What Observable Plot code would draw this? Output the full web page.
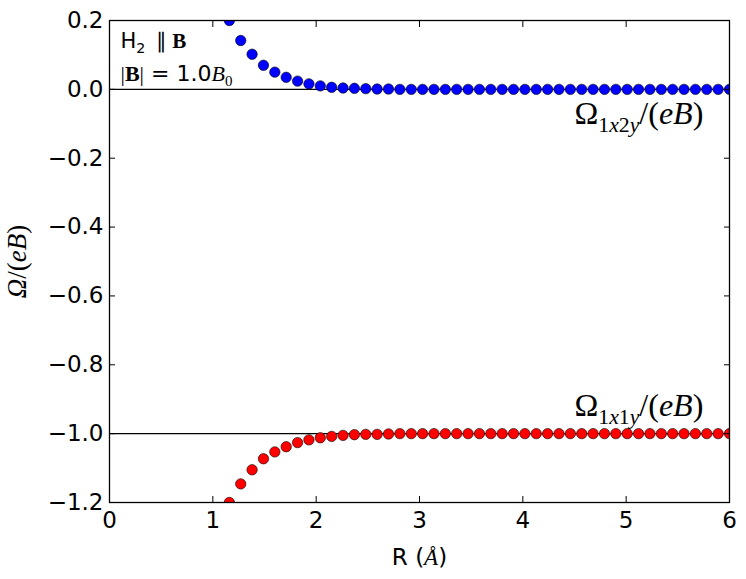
<!DOCTYPE html>
<html><head><meta charset="utf-8">
<script src="https://cdn.jsdelivr.net/npm/d3@7"></script>
<script src="https://cdn.jsdelivr.net/npm/@observablehq/plot@0.6"></script>
<style>
body{margin:0;background:#fff}
#chart{position:absolute;left:0;top:0}
</style>
</head><body><div id="chart"></div>
<script>
// Bond length R (Å)
const R = [1.16,1.27,1.38,1.49,1.60,1.71,1.82,1.93,2.04,2.15,2.26,2.37,2.48,2.59,2.70,2.81,2.92,3.03,3.14,3.25,3.36,3.47,3.58,3.69,3.80,3.91,4.02,4.13,4.24,4.35,4.46,4.57,4.68,4.79,4.90,5.01,5.12,5.23,5.34,5.45,5.56,5.67,5.78,5.89,6.00];
// Ω_1x2y/(eB)  (blue)
const omega1x2y = [0.200,0.142,0.102,0.070,0.050,0.035,0.024,0.016,0.010,0.006,0.004,0.003,0.002,0.001,0.001,0,0,0,0,0,0,0,0,0,0,0,0,0,0,0,0,0,0,0,0,0,0,0,0,0,0,0,0,0,0];
// Ω_1x1y/(eB)  (red)
const omega1x1y = [-1.200,-1.146,-1.105,-1.073,-1.053,-1.038,-1.026,-1.018,-1.012,-1.008,-1.005,-1.003,-1.002,-1.002,-1.001,-1,-1,-1,-1,-1,-1,-1,-1,-1,-1,-1,-1,-1,-1,-1,-1,-1,-1,-1,-1,-1,-1,-1,-1,-1,-1,-1,-1,-1,-1];
const xTicks = [0,1,2,3,4,5,6];
const yTicks = [-1.2,-1.0,-0.8,-0.6,-0.4,-0.2,0.0,0.2];
const refLines = [0,-1];

const blue = R.map((r,i)=>({r, v: omega1x2y[i]}));
const red = R.map((r,i)=>({r, v: omega1x1y[i]}));
const labels = [
  {x:4.5, y:-0.1, key:"l12", text:"Ω1x2y/(eB)"},
  {x:4.5, y:-0.95, key:"l11", text:"Ω1x1y/(eB)"}
];

const SANS = "DejaVu Sans", SERIF = "Liberation Serif";
const TF = 23, LF = 32;
const plot = Plot.plot({
  width:746, height:579,
  marginLeft:109, marginRight:17, marginTop:20, marginBottom:77,
  style:{fontFamily:SANS, fontSize:"20px", background:"white", color:"black", overflow:"visible"},
  x:{domain:[0,6]},
  y:{domain:[-1.2,0.2]},
  marks:[
    Plot.ruleY(refLines, {stroke:"black", strokeWidth:1.1}),
    Plot.dot(blue, {x:"r", y:"v", r:5.2, fill:"#0000ff", stroke:"black", strokeWidth:0.6, clip:true}),
    Plot.dot(red, {x:"r", y:"v", r:5.2, fill:"#ff0000", stroke:"black", strokeWidth:0.6, clip:true}),
    Plot.frame({stroke:"black", strokeWidth:1.3}),
    Plot.axisX(xTicks, {anchor:"bottom", tickSize:-6, tickPadding:15, fontSize:TF, fontFamily:SANS, tickFormat:d3.format("d"), label:null}),
    Plot.axisX(xTicks, {anchor:"top", tickSize:-6, text:null, label:null}),
    Plot.axisY(yTicks, {anchor:"left", tickSize:-6, tickPadding:12, fontSize:TF, fontFamily:SANS, tickFormat:d3.format(".1f"), label:null}),
    Plot.axisY(yTicks, {anchor:"right", tickSize:-6, text:null, label:null}),
    Plot.text(labels, {x:"x", y:"y", text:"text", textAnchor:"start", lineAnchor:"bottom", fontSize:LF, className:"omega-lbl"}),
    Plot.text(["H2  ∥ B"], {frameAnchor:"top-left", dx:11, dy:27, textAnchor:"start", lineAnchor:"bottom", fontSize:21, className:"leg1"}),
    Plot.text(["|B| = 1.0B0"], {frameAnchor:"top-left", dx:11, dy:60, textAnchor:"start", lineAnchor:"bottom", fontSize:22, className:"leg2"}),
    Plot.text(["R (Å)"], {frameAnchor:"bottom", dy:62, textAnchor:"middle", lineAnchor:"bottom", fontSize:TF, className:"xlbl"}),
    Plot.text(["Ω/(eB)"], {frameAnchor:"left", dx:-84, rotate:-90, textAnchor:"middle", lineAnchor:"bottom", fontSize:27, className:"ylbl"})
  ]
});
document.getElementById("chart").appendChild(plot);

function rich(textEl, segs, fs) {
  textEl.textContent = "";
  let shift = 0;
  for (const s of segs) {
    const t = document.createElementNS("http://www.w3.org/2000/svg","tspan");
    const want = s.sub ? 0.25*fs : 0;
    if (want !== shift) { t.setAttribute("dy", (want-shift)+"px"); shift = want; }
    t.setAttribute("font-size", (s.sub ? 0.68*fs : fs) + "px");
    t.setAttribute("font-family", s.f || SERIF);
    if (s.i) t.setAttribute("font-style","italic");
    if (s.b) t.setAttribute("font-weight","bold");
    t.style.whiteSpace = "pre";
    t.textContent = s.t;
    textEl.appendChild(t);
  }
}
const om = plot.querySelectorAll(".omega-lbl text");
const mk = (a,b) => [
  {t:"Ω"},{t:a,sub:1},{t:"x",sub:1,i:1},{t:b,sub:1},{t:"y",sub:1,i:1},{t:"/("},{t:"eB",i:1},{t:")"}];
rich(om[0], mk("1","2"), LF);
rich(om[1], mk("1","1"), LF);
rich(plot.querySelector(".leg1 text"), [{t:"H",f:SANS},{t:"2",sub:1,f:SANS},{t:"  ∥ ",f:SERIF},{t:"B",b:1}], 21);
rich(plot.querySelector(".leg2 text"), [{t:"|"},{t:"B",b:1},{t:"|"},{t:" = 1.0",f:SANS},{t:"B",i:1},{t:"0",sub:1}], 22);
rich(plot.querySelector(".xlbl text"), [{t:"R (",f:SANS},{t:"Å",i:1},{t:")",f:SANS}], TF);
rich(plot.querySelector(".ylbl text"), [{t:"Ω",i:1},{t:"/("},{t:"eB",i:1},{t:")"}], 27);
</script>
</body></html>
